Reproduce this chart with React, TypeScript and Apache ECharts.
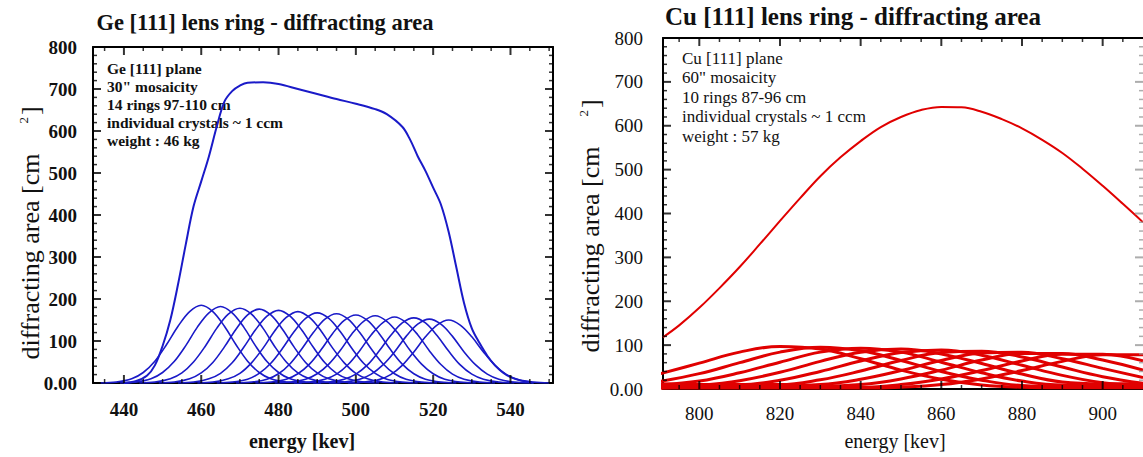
import React, { useEffect, useRef } from "react";
import * as echarts from "echarts";

// ---------- Ge [111] (left) ----------
const geLabelTicks = [440, 460, 480, 500, 520, 540];
const geEnvEnergy = [440, 443, 446, 448, 450, 452, 454, 456, 458, 460, 462, 464, 466, 468, 470, 472, 476, 480, 485, 490, 495, 500, 505, 508, 512, 514, 516, 518, 520, 522, 524, 526, 528, 530, 532, 534, 536, 538, 540, 543, 546];
const geEnvArea = [0, 4, 18, 42, 88, 150, 235, 330, 420, 480, 540, 610, 670, 695, 708, 715, 716, 712, 700, 688, 676, 665, 652, 640, 610, 580, 540, 505, 465, 425, 360, 275, 190, 130, 95, 65, 42, 25, 14, 5, 0];
const geRingPeak = [460, 465, 470, 475, 480, 485, 490, 495, 500, 505, 510, 515, 519, 524];
const geRingOffset = [-26, -22, -18, -15, -12, -9, -6, -3, 0, 3, 6, 9, 12, 15, 18, 22, 26];
const geRing01 = [0, 2, 10, 25, 52, 91, 135, 170, 185, 170, 135, 91, 52, 25, 10, 2, 0];
const geRing02 = [0, 2, 10, 25, 51, 89, 133, 167, 182, 167, 133, 89, 51, 25, 10, 2, 0];
const geRing03 = [0, 2, 10, 24, 50, 87, 130, 164, 178, 164, 130, 87, 50, 24, 10, 2, 0];
const geRing04 = [0, 2, 10, 24, 49, 86, 128, 162, 176, 162, 128, 86, 49, 24, 10, 2, 0];
const geRing05 = [0, 2, 10, 23, 48, 85, 126, 159, 173, 159, 126, 85, 48, 23, 10, 2, 0];
const geRing06 = [0, 2, 10, 23, 48, 83, 124, 156, 170, 156, 124, 83, 48, 23, 10, 2, 0];
const geRing07 = [0, 2, 9, 23, 47, 82, 122, 154, 167, 154, 122, 82, 47, 23, 9, 2, 0];
const geRing08 = [0, 2, 9, 22, 46, 81, 120, 152, 165, 152, 120, 81, 46, 22, 9, 2, 0];
const geRing09 = [0, 2, 9, 22, 45, 79, 118, 149, 162, 149, 118, 79, 45, 22, 9, 2, 0];
const geRing10 = [0, 2, 9, 22, 45, 78, 117, 147, 160, 147, 117, 78, 45, 22, 9, 2, 0];
const geRing11 = [0, 2, 9, 21, 44, 77, 115, 144, 157, 144, 115, 77, 44, 21, 9, 2, 0];
const geRing12 = [0, 2, 9, 21, 43, 76, 113, 143, 155, 143, 113, 76, 43, 21, 9, 2, 0];
const geRing13 = [0, 2, 9, 21, 43, 74, 111, 140, 152, 140, 111, 74, 43, 21, 9, 2, 0];
const geRing14 = [0, 2, 8, 20, 42, 74, 110, 138, 150, 138, 110, 74, 42, 20, 8, 2, 0];
const geRings = [geRing01, geRing02, geRing03, geRing04, geRing05, geRing06, geRing07, geRing08, geRing09, geRing10, geRing11, geRing12, geRing13, geRing14];
const geNotes = ["Ge [111] plane", "30\" mosaicity", "14 rings 97-110 cm", "individual crystals ~ 1 ccm", "weight : 46 kg"];

// ---------- Cu [111] (right) ----------
const cuLabelTicks = [800, 820, 840, 860, 880, 900];
const cuTotalEnergy = [791, 795, 800, 805, 810, 815, 820, 825, 830, 835, 840, 845, 850, 855, 860, 865, 870, 875, 880, 885, 890, 895, 900, 905, 910];
const cuTotalArea = [118, 145, 185, 230, 278, 330, 383, 435, 485, 528, 565, 597, 620, 636, 643, 642, 632, 615, 594, 568, 538, 502, 463, 422, 380];
const cuRingEnergy = [790, 800, 810, 820, 830, 840, 850, 860, 870, 880, 890, 900, 910];
const cuRing01 = [34, 59, 84, 97, 91, 69, 43, 22, 9, 4, 3, 3, 3];
const cuRing02 = [17, 35, 60, 84, 95, 87, 65, 40, 20, 8, 6, 6, 6];
const cuRing03 = [9, 18, 37, 61, 84, 93, 84, 61, 37, 18, 9, 9, 9];
const cuRing04 = [2, 8, 19, 38, 63, 84, 91, 80, 58, 34, 16, 12, 12];
const cuRing05 = [12, 10, 10, 20, 40, 64, 83, 89, 77, 54, 31, 14, 5];
const cuRing06 = [10, 10, 10, 10, 21, 41, 65, 83, 86, 73, 50, 28, 13];
const cuRing07 = [8, 8, 8, 8, 10, 22, 42, 65, 82, 84, 69, 47, 26];
const cuRing08 = [6, 6, 6, 6, 6, 10, 23, 43, 66, 81, 81, 66, 43];
const cuRing09 = [4, 4, 4, 4, 4, 4, 10, 23, 42, 64, 79, 79, 64];
const cuRing10 = [2, 2, 2, 2, 2, 2, 4, 10, 23, 42, 63, 78, 78];
const cuRings = [cuRing01, cuRing02, cuRing03, cuRing04, cuRing05, cuRing06, cuRing07, cuRing08, cuRing09, cuRing10];
const cuNotes = ["Cu [111] plane", "60\" mosaicity", "10 rings 87-96 cm", "individual crystals ~ 1 ccm", "weight : 57 kg"];

// y tick values (shared)
const yMajorTicks = [100, 200, 300, 400, 500, 600, 700];

const SERIF = '"Liberation Serif", "Times New Roman", serif';
const BLUE = "#1a1ac8";
const RED = "#e00000";

function minorList(min: number, max: number, step: number, majors: number[]) {
  const out: number[] = [];
  const start = Math.ceil(min / step) * step;
  for (let v = start; v <= max; v += step) if (!majors.includes(v) && v > min && v < max) out.push(v);
  return out;
}

function xAxes(gridIndex: number, min: number, max: number, majors: number[], bold: boolean, fontSize: number, margin: number) {
  const line = { show: true, onZero: false, lineStyle: { color: "#000", width: 2 } };
  const base = { type: "value", gridIndex, min, max, splitLine: { show: false }, axisTick: { show: false } };
  return [
    {
      ...base, position: "bottom", axisLine: line,
      axisLabel: { show: true, customValues: majors, margin, color: "#111", fontFamily: SERIF, fontSize, fontWeight: bold ? "bold" : "normal" },
    },
    { ...base, position: "top", axisLine: line, axisLabel: { show: false } },
  ];
}

function yAxes(gridIndex: number, bold: boolean, fontSize: number, margin: number, rightFaint: boolean) {
  const base = { type: "value", gridIndex, min: 0, max: 800, interval: 100, splitLine: { show: false }, axisTick: { show: false } };
  return [
    {
      ...base, position: "left",
      axisLine: { show: true, onZero: false, lineStyle: { color: "#000", width: 2 } },
      axisLabel: {
        show: true, margin, color: "#111", fontFamily: SERIF, fontSize, fontWeight: bold ? "bold" : "normal",
        formatter: (v: number) => (v === 0 ? "0.00" : String(v)),
      },
    },
    {
      ...base, position: "right",
      axisLine: { show: true, onZero: false, lineStyle: rightFaint ? { color: "#bbb", width: 1, type: "dotted" } : { color: "#000", width: 2 } },
      axisLabel: { show: false },
    },
  ];
}

// Frame tick marks drawn as tiny rect symbols placed through the axes' own scales.
function tickSeries(xi: number, yi: number, xMin: number, xMax: number, xMajors: number[], rightFaint: boolean) {
  const xMinors = minorList(xMin, xMax, 5, xMajors);
  const yMinors = minorList(0, 800, 20, [0, ...yMajorTicks, 800]);
  const mk = (data: number[][], size: number[], offset: number[], color: string) => ({
    type: "scatter", xAxisIndex: xi, yAxisIndex: yi, silent: true, clip: false, z: 6,
    symbol: "rect", symbolSize: size, symbolOffset: offset,
    itemStyle: { color }, data,
  });
  const rc = rightFaint ? "#999" : "#000";
  return [
    mk(xMajors.map((v) => [v, 0]), [2, 8], [0, -4], "#000"),
    mk(xMinors.map((v) => [v, 0]), [1.5, 4], [0, -2], "#000"),
    mk(xMajors.map((v) => [v, 800]), [2, 8], [0, 4], "#000"),
    mk(xMinors.map((v) => [v, 800]), [1.5, 4], [0, 2], "#000"),
    mk(yMajorTicks.map((v) => [xMin, v]), [8, 2], [4, 0], "#000"),
    mk(yMinors.map((v) => [xMin, v]), [4, 1.5], [2, 0], "#000"),
    mk(yMajorTicks.map((v) => [xMax, v]), [8, 2], [-4, 0], rc),
    mk(yMinors.map((v) => [xMax, v]), [4, 1.5], [-2, 0], rc),
  ];
}

function noteTexts(lines: string[], x: number, y0: number, dy: number, size: number, bold: boolean) {
  return lines.map((t, i) => ({
    type: "text", x, y: y0 + i * dy, silent: true,
    style: { text: t, fill: "#111", fontFamily: SERIF, fontSize: size, fontWeight: bold ? "bold" : "normal", align: "left", verticalAlign: "middle" },
  }));
}

function yTitle(x: number, y: number, size: number) {
  return {
    type: "text", x, y, rotation: Math.PI / 2, silent: true,
    style: {
      text: "{a|diffracting area [cm}{s|2}{a|]}",
      align: "center", verticalAlign: "middle", fill: "#111",
      rich: {
        a: { fontFamily: SERIF, fontSize: size, fill: "#111" },
        s: { fontFamily: SERIF, fontSize: 13, fill: "#111", padding: [0, 2, 0, 30], verticalAlign: "top" },
      },
    },
  };
}

export default function App() {
  const ref = useRef<HTMLDivElement>(null);
  useEffect(() => {
    if (!ref.current) return;
    const chart = echarts.init(ref.current, null, { renderer: "svg" });

    const series: any[] = [];
    geRings.forEach((vals, r) => {
      series.push({
        type: "line", xAxisIndex: 0, yAxisIndex: 0, showSymbol: false, smooth: 0.35,
        lineStyle: { color: BLUE, width: 1.6 },
        data: geRingOffset.map((o, i) => [geRingPeak[r] + o, vals[i]]),
      });
    });
    series.push({
      type: "line", xAxisIndex: 0, yAxisIndex: 0, showSymbol: false, smooth: 0.35,
      lineStyle: { color: BLUE, width: 2 },
      data: geEnvEnergy.map((e, i) => [e, geEnvArea[i]]),
    });
    cuRings.forEach((vals) => {
      series.push({
        type: "line", xAxisIndex: 2, yAxisIndex: 2, showSymbol: false, smooth: 0.4,
        lineStyle: { color: RED, width: 3 },
        data: cuRingEnergy.map((e, i) => [e, vals[i]]),
      });
    });
    series.push({
      type: "line", xAxisIndex: 2, yAxisIndex: 2, showSymbol: false, smooth: 0.4,
      lineStyle: { color: RED, width: 2 },
      data: cuTotalEnergy.map((e, i) => [e, cuTotalArea[i]]),
    });
    series.push(...tickSeries(0, 0, 432, 551, geLabelTicks, false));
    series.push(...tickSeries(2, 2, 791, 910, cuLabelTicks, true));

    chart.setOption({
      animation: false,
      grid: [
        { left: 93, top: 47, width: 460, height: 336, containLabel: false },
        { left: 663, top: 38, width: 480, height: 351, containLabel: false },
      ],
      xAxis: [
        ...xAxes(0, 432, 551, geLabelTicks, true, 19, 17),
        ...xAxes(1, 791, 910, cuLabelTicks, false, 19, 15),
      ],
      yAxis: [
        ...yAxes(0, true, 19, 16, false),
        ...yAxes(1, false, 19, 20, true),
      ],
      series,
      graphic: [
        {
          type: "text", x: 265, y: 22, silent: true,
          style: { text: "Ge [111] lens ring - diffracting area", fill: "#111", fontFamily: SERIF, fontSize: 22.5, fontWeight: "bold", align: "center", verticalAlign: "middle" },
        },
        {
          type: "text", x: 853, y: 16, silent: true,
          style: { text: "Cu [111] lens ring - diffracting area", fill: "#111", fontFamily: SERIF, fontSize: 25, fontWeight: "bold", align: "center", verticalAlign: "middle" },
        },
        {
          type: "text", x: 302, y: 441, silent: true,
          style: { text: "energy [kev]", fill: "#111", fontFamily: SERIF, fontSize: 20, fontWeight: "bold", align: "center", verticalAlign: "middle" },
        },
        {
          type: "text", x: 895, y: 441, silent: true,
          style: { text: "energy [kev]", fill: "#111", fontFamily: SERIF, fontSize: 20, align: "center", verticalAlign: "middle" },
        },
        yTitle(30, 233, 26),
        yTitle(590, 226, 26),
        ...noteTexts(geNotes, 107, 68, 18, 15.5, true),
        ...noteTexts(cuNotes, 682, 58, 19.5, 17, false),
      ],
    });
    return () => chart.dispose();
  }, []);
  return <div ref={ref} style={{ position: "absolute", left: 0, top: 0, width: 1143, height: 457 }} />;
}
